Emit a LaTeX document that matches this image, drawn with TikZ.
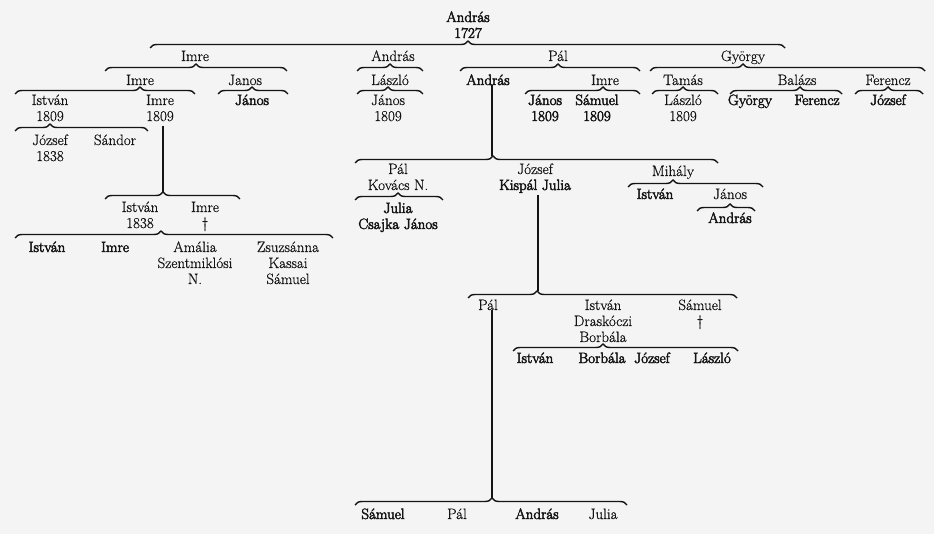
\documentclass[tikz,border=0pt]{standalone}
\usepackage{fontspec}
\setmainfont{Latin Modern Roman}[FakeBold=0.6]
\newfontfamily\hv{Latin Modern Roman}[FakeBold=3.2]
\usetikzlibrary{decorations.pathreplacing}
\newcommand\nm[1]{\begin{tabular}[t]{@{}c@{}}#1\end{tabular}}
\definecolor{bgc}{RGB}{244,244,244}
\definecolor{ink}{RGB}{20,20,20}
\tikzset{
  pn/.style={anchor=base,inner sep=0pt,text=ink,font=\fontsize{15}{16}\selectfont},
  pb/.style={anchor=base,inner sep=0pt,text=ink,font=\fontsize{15}{16}\selectfont\hv},
  brc/.style={draw=ink,line width=1.4pt,decorate},
  vl/.style={draw=ink,line width=2pt}
}
\newcommand\fbr[4]{\pgfmathsetmacro\asp{(#3-#1)/(#2-#1)}%
  \draw[brc,decoration={brace,amplitude=7pt,aspect=\asp}] (#1,#4) -- (#2,#4);}
\begin{document}
\begin{tikzpicture}[x=1pt,y=-1pt]
\fill[bgc] (0,0) rectangle (934,534);
\useasboundingbox (0,0) rectangle (934,534);
% root
\node[pb] (root) at (468,22) {\nm{András\\1727}};
\fbr{150}{785}{468}{48}
% level 1
\node[pn] (imre1) at (195,61) {Imre};
\node[pn] (andras1) at (393,61) {András};
\node[pn] (pal1) at (558,61) {Pál};
\node[pn] (gyorgy1) at (743,61) {György};
\fbr{105}{287}{196}{71}
\fbr{357}{423}{390}{71}
\fbr{460}{640}{558}{71}
\fbr{650}{925}{743}{71}
% level 2
\node[pn] (imre2) at (140,85) {Imre};
\node[pn] (janos2) at (245,85) {Janos};
\node[pn] (laszlo2) at (390,85) {László};
\node[pb] (andras2) at (488,85) {András};
\node[pn] (imre2b) at (605,85) {Imre};
\node[pn] (tamas2) at (683,85) {Tamás};
\node[pn] (balazs2) at (797,85) {Balázs};
\node[pn] (ferencz2) at (888,85) {Ferencz};
\fbr{15}{195}{140}{94}
\fbr{218}{288}{252}{94}
\fbr{357}{423}{388}{94}
\fbr{525}{640}{603}{94}
\fbr{652}{718}{683}{94}
\fbr{730}{842}{800}{94}
\fbr{855}{923}{888}{94}
% level 3
\node[pn] (istvan3) at (50,105) {\nm{István\\1809}};
\node[pn] (imre3) at (160,105) {\nm{Imre\\1809}};
\node[pb] (janos3) at (252,105) {János};
\node[pn] (janos3b) at (388,105) {\nm{János\\1809}};
\node[pb] (janos3c) at (545,105) {\nm{János\\1809}};
\node[pb] (samuel3) at (597,105) {\nm{Sámuel\\1809}};
\node[pn] (laszlo3) at (683,105) {\nm{László\\1809}};
\node[pb] (gyorgy3) at (750,105) {György};
\node[pb] (ferencz3) at (817,105) {Ferencz};
\node[pb] (jozsef3) at (888,105) {József};
% under István 1809
\fbr{15}{148}{50}{131}
\node[pn] (jozsef4) at (50,145) {\nm{József\\1838}};
\node[pn] (sandor4) at (115,145) {Sándor};
% under Imre 1809
\coordinate (tI) at (163,192);
\draw[vl] (imre3.south -| tI) -- (tI);
\fbr{105}{240}{163}{199}
\node[pn] (istvan5) at (140,212) {\nm{István\\1838}};
\node[pn] (imre5) at (205,212) {\nm{Imre\\†}};
\fbr{15}{333}{161}{238}
\node[pb] (istvan6) at (47,252) {István};
\node[pb] (imre6) at (115,252) {Imre};
\node[pn] (amalia6) at (195,252) {\nm{Amália\\Szentmiklósi\\N.}};
\node[pn] (zsuzsa6) at (288,252) {\nm{Zsuzsánna\\Kassai\\Sámuel}};
% under András (Pál's son)
\coordinate (tA) at (492,156);
\draw[vl] (andras2.south -| tA) -- (tA);
\fbr{355}{718}{493}{163}
\node[pn] (pal4) at (398,174) {\nm{Pál\\Kovács N.}};
\node[pn] (jozsef4b) at (535,174) {\nm{József\\{\hv Kispál Julia}}};
\node[pn] (mihaly4) at (673,176) {Mihály};
\fbr{355}{443}{398}{200}
\node[pb] (julia5) at (398,213) {\nm{Julia\\Csajka János}};
\fbr{628}{763}{673}{187}
\node[pb] (istvan5b) at (655,199) {István};
\node[pn] (janos5) at (730,199) {János};
\fbr{697}{755}{730}{211}
\node[pb] (andras6) at (730,223) {András};
% under József
\coordinate (tJ) at (538,291);
\draw[vl] (jozsef4b.south -| tJ) -- (tJ);
\fbr{468}{737}{537}{298}
\node[pn] (pal7) at (488,310) {Pál};
\node[pn] (istvan7) at (603,310) {\nm{István\\Draskóczi\\Borbála}};
\node[pn] (samuel7) at (700,310) {\nm{Sámuel\\†}};
\fbr{513}{738}{603}{351}
\node[pb] (istvan8) at (535,363) {István};
\node[pb] (borbala8) at (602,363) {Borbála};
\node[pb] (jozsef8) at (652,363) {József};
\node[pb] (laszlo8) at (712,363) {László};
% under Pál
\coordinate (tP) at (492,498);
\draw[vl] (pal7.south -| tP) -- (tP);
\fbr{355}{627}{492}{505}
\node[pb] (samuel9) at (383,519) {Sámuel};
\node[pn] (pal9) at (457,519) {Pál};
\node[pb] (andras9) at (537,519) {András};
\node[pn] (julia9) at (603,519) {Julia};
\end{tikzpicture}
\end{document}
